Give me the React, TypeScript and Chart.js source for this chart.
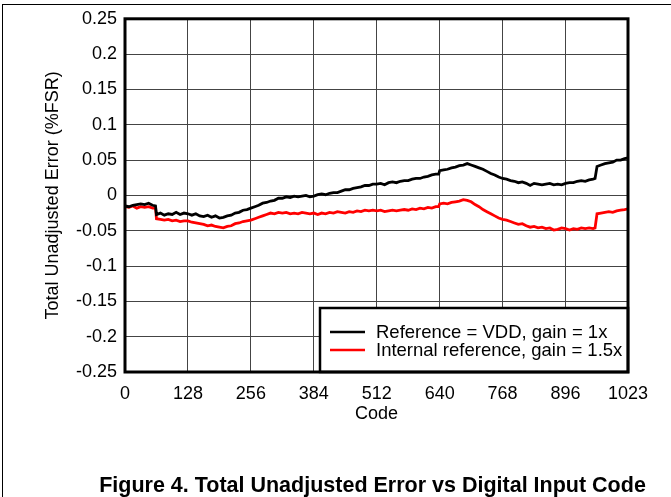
import React, { useEffect, useRef } from "react";
import { Chart, registerables } from "chart.js";

Chart.register(...registerables);

// Sample codes (x positions of the measured points)
const codes = [
  0, 8, 16, 24, 32, 40, 48, 56, 62,
  64, 72, 80, 88, 96, 104, 112, 120,
  128, 136, 144, 152, 160, 168, 176, 184,
  192, 200, 208, 216, 224, 232, 240, 248,
  256, 264, 272, 280, 288, 296, 304, 312,
  320, 328, 336, 344, 352, 360, 368, 376,
  384, 392, 400, 408, 416, 424, 432, 440,
  448, 456, 464, 472, 480, 488, 496, 504,
  512, 520, 528, 536, 544, 552, 560, 568,
  576, 584, 592, 600, 608, 616, 624, 632, 638,
  640, 648, 656, 664, 672, 680, 688, 696,
  704, 712, 720, 728, 736, 744, 752, 760,
  768, 776, 784, 792, 800, 808, 816, 824,
  832, 840, 848, 856, 864, 872, 880, 888,
  896, 904, 912, 920, 928, 936, 944, 952, 956,
  960, 968, 976, 984, 992, 1000, 1008, 1016, 1023,
];

// Reference = VDD, gain = 1x (%FSR)
const refVddGain1x = [
  -0.015, -0.016, -0.014, -0.013, -0.012, -0.013, -0.011, -0.014, -0.015,
  -0.027, -0.025, -0.028, -0.026, -0.027, -0.024, -0.027, -0.025,
  -0.026, -0.028, -0.026, -0.029, -0.030, -0.028, -0.031, -0.029,
  -0.032, -0.031, -0.029, -0.028, -0.025, -0.024, -0.021, -0.020,
  -0.018, -0.016, -0.014, -0.011, -0.010, -0.008, -0.007, -0.004,
  -0.004, -0.002, -0.003, -0.001, -0.002, -0.001, 0.000, -0.002,
  -0.001, 0.001, 0.002, 0.001, 0.003, 0.004, 0.004, 0.006,
  0.008, 0.008, 0.010, 0.011, 0.012, 0.014, 0.014, 0.016,
  0.016, 0.017, 0.015, 0.018, 0.019, 0.018, 0.020, 0.021,
  0.021, 0.023, 0.024, 0.024, 0.026, 0.027, 0.029, 0.030, 0.030,
  0.035, 0.036, 0.037, 0.039, 0.040, 0.042, 0.043, 0.045,
  0.043, 0.041, 0.039, 0.037, 0.034, 0.031, 0.029, 0.026,
  0.024, 0.023, 0.021, 0.020, 0.018, 0.019, 0.017, 0.014,
  0.017, 0.016, 0.015, 0.016, 0.017, 0.015, 0.016, 0.015,
  0.017, 0.018, 0.018, 0.020, 0.021, 0.020, 0.022, 0.023, 0.024,
  0.041, 0.043, 0.045, 0.046, 0.047, 0.050, 0.050, 0.052, 0.053,
];

// Internal reference, gain = 1.5x (%FSR)
const internalRefGain15x = [
  -0.016, -0.017, -0.015, -0.018, -0.016, -0.017, -0.016, -0.018, -0.017,
  -0.033, -0.034, -0.035, -0.034, -0.036, -0.035, -0.037, -0.036,
  -0.036, -0.038, -0.039, -0.040, -0.041, -0.043, -0.042, -0.044,
  -0.045, -0.046, -0.044, -0.043, -0.040, -0.039, -0.037, -0.036,
  -0.035, -0.033, -0.031, -0.029, -0.027, -0.025, -0.026, -0.024,
  -0.025, -0.024, -0.026, -0.025, -0.026, -0.024, -0.025, -0.026,
  -0.025, -0.027, -0.025, -0.026, -0.024, -0.025, -0.023, -0.024,
  -0.025, -0.023, -0.024, -0.022, -0.023, -0.021, -0.022, -0.021,
  -0.022, -0.021, -0.023, -0.022, -0.021, -0.022, -0.021, -0.020,
  -0.021, -0.019, -0.020, -0.018, -0.019, -0.017, -0.018, -0.016, -0.016,
  -0.012, -0.011, -0.012, -0.010, -0.009, -0.008, -0.006, -0.007,
  -0.009, -0.013, -0.016, -0.020, -0.023, -0.026, -0.029, -0.032,
  -0.034, -0.035, -0.037, -0.039, -0.041, -0.040, -0.043, -0.045,
  -0.044, -0.046, -0.045, -0.047, -0.046, -0.049, -0.048, -0.046,
  -0.047, -0.049, -0.047, -0.048, -0.046, -0.047, -0.046, -0.047, -0.046,
  -0.026, -0.025, -0.024, -0.023, -0.024, -0.022, -0.021, -0.020, -0.019,
];

const xTickValues = [0, 128, 256, 384, 512, 640, 768, 896, 1023];
const yTickValues = [-0.25, -0.2, -0.15, -0.1, -0.05, 0, 0.05, 0.1, 0.15, 0.2, 0.25];
const seriesLabels = ["Reference = VDD, gain = 1x", "Internal reference, gain = 1.5x"];
const seriesColors = ["#000000", "#ff0000"];
const xTitle = "Code";
const yTitle = "Total Unadjusted Error (%FSR)";
const caption = "Figure 4. Total Unadjusted Error vs Digital Input Code";

const FONT = "'Liberation Sans', Arial, Helvetica, sans-serif";

const framePlugin = {
  id: "frameAndLegend",
  afterDatasetsDraw(chart: any) {
    const { ctx, chartArea } = chart;
    const { left, right, top, bottom } = chartArea;
    ctx.save();
    // legend box
    const bw = 308;
    const bh = 64;
    const bx = right - bw;
    const by = bottom - bh;
    ctx.fillStyle = "#ffffff";
    ctx.fillRect(bx, by, bw, bh);
    ctx.lineWidth = 2.5;
    ctx.strokeStyle = "#000";
    ctx.strokeRect(bx, by, bw, bh);
    ctx.font = `18.5px ${FONT}`;
    ctx.textBaseline = "middle";
    ctx.textAlign = "left";
    seriesLabels.forEach((lab, i) => {
      const ry = by + 24 + i * 18;
      ctx.strokeStyle = seriesColors[i];
      ctx.lineWidth = 2.5;
      ctx.beginPath();
      ctx.moveTo(bx + 10, ry);
      ctx.lineTo(bx + 45, ry);
      ctx.stroke();
      ctx.fillStyle = "#000";
      ctx.fillText(lab, bx + 56, ry + 1);
    });
    // plot frame
    ctx.lineWidth = 3;
    ctx.strokeStyle = "#000";
    ctx.strokeRect(left, top, right - left, bottom - top);
    ctx.restore();
  },
};

export default function App() {
  const ref = useRef<HTMLCanvasElement | null>(null);

  useEffect(() => {
    if (!ref.current) return;
    const chart = new Chart(ref.current, {
      type: "line",
      data: {
        datasets: [refVddGain1x, internalRefGain15x].map((vals, i) => ({
          label: seriesLabels[i],
          data: codes.map((c, j) => ({ x: c, y: vals[j] })),
          borderColor: seriesColors[i],
          backgroundColor: seriesColors[i],
          borderWidth: 2.8,
          pointRadius: 0,
          tension: 0,
          fill: false,
        })),
      },
      options: {
        animation: false,
        responsive: false,
        maintainAspectRatio: false,
        layout: { padding: { left: 32, top: 18, right: 43, bottom: 0 } },
        plugins: {
          legend: { display: false },
          tooltip: { enabled: false },
        },
        scales: {
          x: {
            type: "linear",
            min: 0,
            max: 1023,
            afterBuildTicks: (s: any) => {
              s.ticks = xTickValues.map((v) => ({ value: v }));
            },
            afterFit: (s: any) => {
              s.height = 125;
            },
            grid: { color: "#444", lineWidth: 1, drawTicks: false },
            border: { display: false },
            ticks: {
              color: "#000",
              font: { family: FONT, size: 18 },
              padding: 11,
              maxRotation: 0,
              autoSkip: false,
              callback: (v: any) => String(v),
            },
            title: {
              display: true,
              text: xTitle,
              color: "#000",
              font: { family: FONT, size: 18 },
              padding: { top: 0, bottom: 72 },
            },
          },
          y: {
            type: "linear",
            min: -0.25,
            max: 0.25,
            afterBuildTicks: (s: any) => {
              s.ticks = yTickValues.map((v) => ({ value: v }));
            },
            afterFit: (s: any) => {
              s.width = 93;
            },
            grid: { color: "#444", lineWidth: 1, drawTicks: false },
            border: { display: false },
            ticks: {
              color: "#000",
              font: { family: FONT, size: 18 },
              padding: 8,
              autoSkip: false,
              callback: (v: any) => String(Number(Number(v).toFixed(2))),
            },
            title: {
              display: true,
              text: yTitle,
              color: "#000",
              font: { family: FONT, size: 18 },
              padding: { top: 10, bottom: 0 },
            },
          },
        },
      },
      plugins: [framePlugin],
    } as any);
    return () => chart.destroy();
  }, []);

  return (
    <div
      style={{
        position: "fixed",
        left: 0,
        top: 0,
        width: 671,
        height: 497,
        overflow: "hidden",
        background: "#fff",
      }}
    >
      <canvas
        ref={ref}
        width={671}
        height={497}
        style={{ position: "absolute", left: 0, top: 0, width: 671, height: 497, display: "block" }}
      />
      <div
        style={{
          position: "absolute",
          left: 2,
          top: 4,
          width: 700,
          height: 600,
          borderTop: "1.5px solid #000",
          borderLeft: "1.5px solid #000",
          pointerEvents: "none",
        }}
      />
      <div
        style={{
          position: "absolute",
          left: 0,
          width: 745,
          top: 473,
          textAlign: "center",
          fontFamily: FONT,
          fontWeight: "bold",
          fontSize: 21.5,
          whiteSpace: "nowrap",
          color: "#000",
        }}
      >
        {caption}
      </div>
    </div>
  );
}
